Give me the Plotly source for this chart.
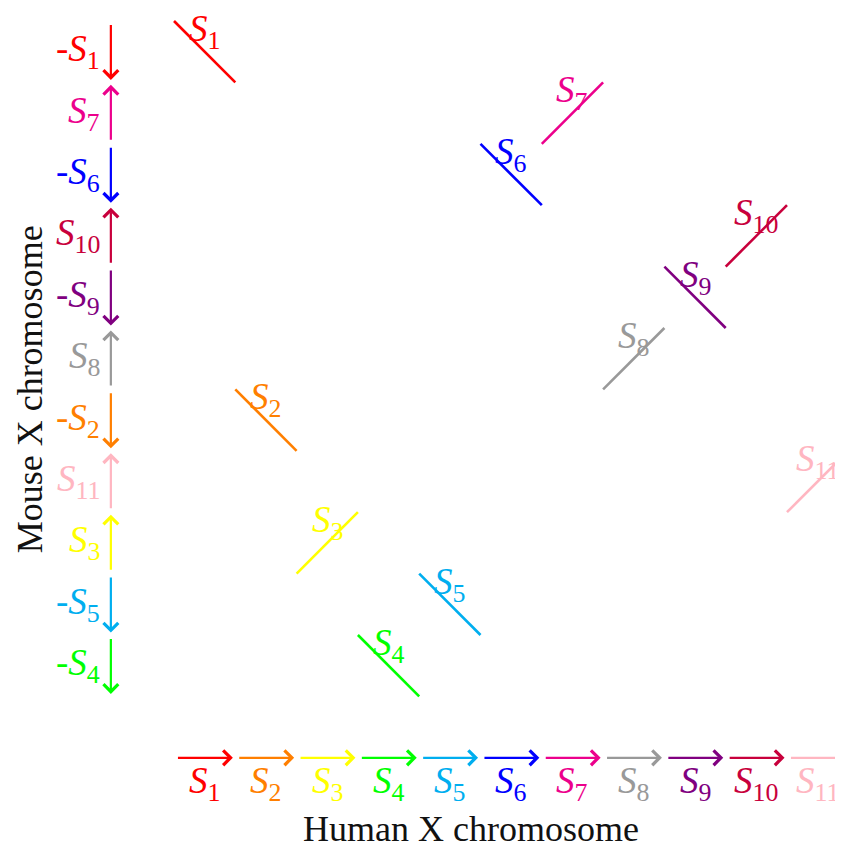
import plotly.graph_objects as go

# ---- data ----
human_segments = [1, 2, 3, 4, 5, 6, 7, 8, 9, 10, 11]          # order along human X
mouse_order = [1, 7, 6, 10, 9, 8, 2, 11, 3, 5, 4]              # order along mouse X (top to bottom)
mouse_sign = [-1, 1, -1, 1, -1, 1, -1, 1, 1, -1, -1]           # orientation in mouse
seg_colors = {
    1: "#ff0000", 2: "#ff7f00", 3: "#ffff00", 4: "#00ff00", 5: "#00aeef",
    6: "#0000ff", 7: "#ec008c", 8: "#999999", 9: "#800080", 10: "#c8003c",
    11: "#ffb6c1",
}
x_title = "Human X chromosome"
y_title = "Mouse X chromosome"

FONT = "Liberation Serif"
LSIZE = 37
gap = 0.04

def lab(i, neg=False):
    return ("-" if neg else "") + "<i>S</i><sub>%d</sub>" % i

fig = go.Figure()
ann = []

# synteny segments in the plot
for i in human_segments:
    row = mouse_order.index(i)
    s = mouse_sign[row]
    x0, x1 = i - 1, i
    if s < 0:
        y0, y1 = row, row + 1
    else:
        y0, y1 = row + 1, row
    fig.add_trace(go.Scatter(x=[x0, x1], y=[y0, y1], mode="lines",
                             line=dict(color=seg_colors[i], width=2.6),
                             hoverinfo="skip", showlegend=False))
    ann.append(dict(x=x0 + 0.5, y=row + 0.17, xref="x", yref="y", text=lab(i),
                    showarrow=False, font=dict(family=FONT, size=LSIZE, color=seg_colors[i])))

# human axis arrows
for i in human_segments:
    c = seg_colors[i]
    ann.append(dict(x=i - gap, y=12, ax=i - 1 + gap, ay=12, xref="x", yref="y",
                    axref="x", ayref="y", text="", showarrow=True, arrowhead=4,
                    arrowsize=1.3, arrowwidth=2.2, arrowcolor=c, standoff=0, startstandoff=0))
    ann.append(dict(x=i - 0.5, y=12.42, xref="x", yref="y", text=lab(i), showarrow=False,
                    font=dict(family=FONT, size=LSIZE, color=c)))

# mouse axis arrows
for row, (i, s) in enumerate(zip(mouse_order, mouse_sign)):
    c = seg_colors[i]
    if s < 0:
        tail, tip = row + gap, row + 1 - gap
    else:
        tail, tip = row + 1 - gap, row + gap
    ann.append(dict(x=-1.03, y=tip, ax=-1.03, ay=tail, xref="x", yref="y",
                    axref="x", ayref="y", text="", showarrow=True, arrowhead=4,
                    arrowsize=1.3, arrowwidth=2.2, arrowcolor=c, standoff=0, startstandoff=0))
    ann.append(dict(x=-1.17, y=row + 0.5, xref="x", yref="y", text=lab(i, s < 0),
                    showarrow=False, xanchor="right",
                    font=dict(family=FONT, size=LSIZE, color=c)))

# axis titles
ann.append(dict(x=4.85, y=13.16, xref="x", yref="y", text=x_title, showarrow=False,
                font=dict(family=FONT, size=36, color="#111111")))
ann.append(dict(x=-2.35, y=6.0, xref="x", yref="y", text=y_title, showarrow=False,
                textangle=-90, font=dict(family=FONT, size=36, color="#111111")))

# the page body has an 8px margin; map screenshot pixels to data accordingly
OFF = 8
fig.update_layout(
    width=843, height=846,
    margin=dict(l=0, r=0, t=0, b=0),
    plot_bgcolor="white", paper_bgcolor="white",
    annotations=ann,
    xaxis=dict(range=[(OFF - 174) / 61.3, (843 + OFF - 174) / 61.3], visible=False),
    yaxis=dict(range=[(846 + OFF - 21) / 61.4, (OFF - 21) / 61.4], visible=False),
    showlegend=False,
)
fig.write_html("out.html")
